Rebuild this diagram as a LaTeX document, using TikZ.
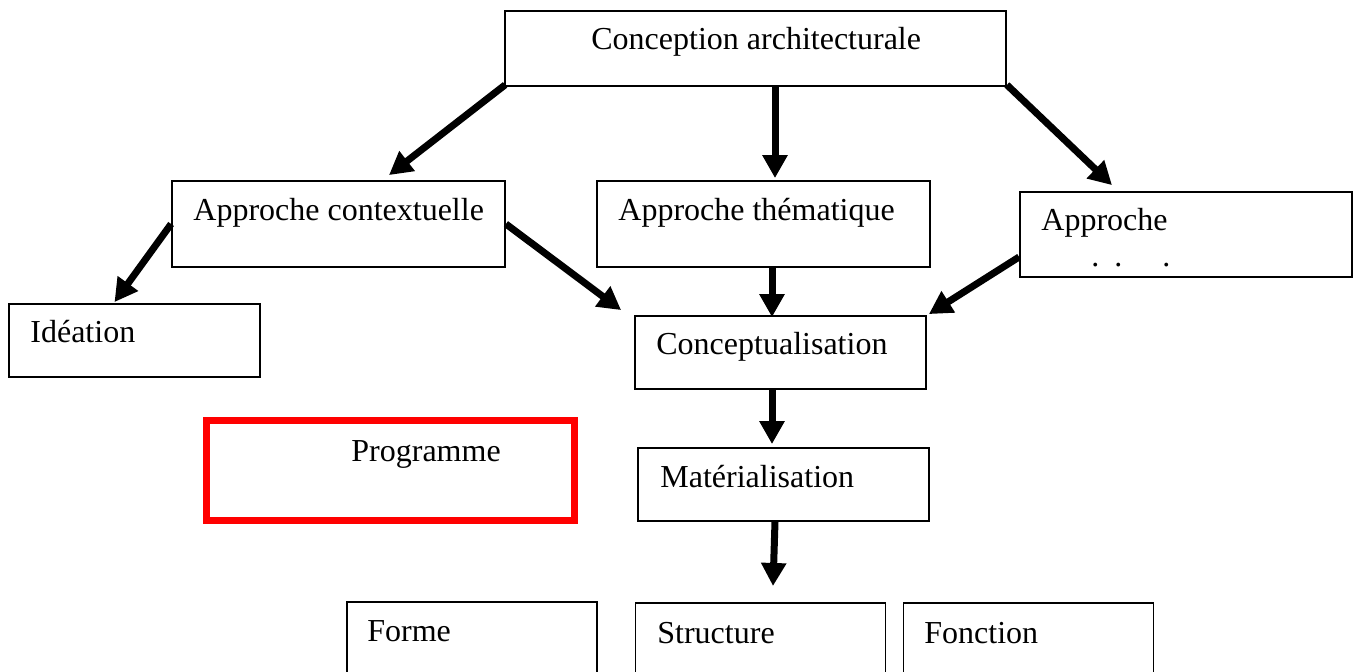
\documentclass[tikz,border=0pt]{standalone}
\usepackage{fontspec}
\setmainfont{Liberation Serif}
\usetikzlibrary{arrows.meta, positioning}
\definecolor{ink}{HTML}{000000}
\definecolor{progred}{HTML}{FF0000}
\tikzset{bx/.style={draw=ink, line width=0.9pt, inner sep=0pt},
  tx/.style={anchor=base west, inner sep=0pt, text=ink, font=\fontsize{16pt}{19pt}\selectfont},
  ar/.style={draw=ink, line width=3.5pt, -{Triangle[length=11.5pt, width=12pt]}}}
\begin{document}
\begin{tikzpicture}[x=0.5pt, y=-0.5pt]
  \useasboundingbox (0,0) rectangle (1357,672);
  \clip (0,0) rectangle (1357,672);
  % boxes
  \node[bx, minimum width=250.5pt, minimum height=37.5pt] (conc) at (755.5,48.5) {};
  \node[bx, minimum width=166.5pt, minimum height=43pt] (ctx) at (338.5,224) {};
  \node[bx, minimum width=166.5pt, minimum height=43pt] (them) at (763.5,224) {};
  \node[bx, minimum width=166pt, minimum height=42.5pt] (autre) at (1186,234.5) {};
  \node[bx, minimum width=125.5pt, minimum height=36.5pt] (idea) at (134.5,340.5) {};
  \node[bx, minimum width=145.5pt, minimum height=36.5pt] (concep) at (780.5,352.5) {};
  \node[draw=progred, line width=3.5pt, inner sep=0pt, minimum width=184pt, minimum height=50pt] (prog) at (390,471) {};
  \node[bx, minimum width=145.5pt, minimum height=36.5pt] (mater) at (783.5,484.5) {};
  \node[bx, minimum width=125pt, minimum height=45pt] (forme) at (472,647) {};
  \node[bx, minimum width=125pt, minimum height=45pt] (struct) at (760.5,648) {};
  \node[bx, minimum width=125pt, minimum height=45pt] (fonct) at (1028.5,648) {};
  % labels
  \node[tx] (conc-t) at (591,50) {Conception architecturale};
  \node[tx] (ctx-t) at (193,221) {Approche contextuelle};
  \node[tx] (them-t) at (618,221) {Approche thématique};
  \node[tx] (autre-t) at (1041,231) {Approche};
  \node[tx] (autre-d) at (1091,267) {.\hspace{7.5pt}.\hspace{20pt}.};
  \node[tx] (idea-t) at (30,343) {Idéation};
  \node[tx] (concep-t) at (656,355) {Conceptualisation};
  \node[tx] (prog-t) at (351,462) {Programme};
  \node[tx] (mater-t) at (660,488) {Matérialisation};
  \node[tx] (forme-t) at (367,642) {Forme};
  \node[tx] (struct-t) at (657,644) {Structure};
  \node[tx] (fonct-t) at (924,644) {Fonction};
  % arrows
  \coordinate (down) at (773,586);
  \draw[ar] ([shift={(1,-2)}]conc.south west) -- ([shift={(50.5,-5)}]ctx.north);
  \draw[ar] ([shift={(19.5,0)}]conc.south) -- ([shift={(11.5,-2)}]them.north);
  \draw[ar] ([shift={(0,-2)}]conc.south east) -- ([shift={(-74,-6)}]autre.north);
  \draw[ar] (ctx.west) -- ([shift={(-20,-1)}]idea.north);
  \draw[ar] (ctx.east) -- ([shift={(-13,-5)}]concep.north west);
  \draw[ar] ([shift={(8.5,0)}]them.south) -- ([shift={(-8.5,2)}]concep.north);
  \draw[ar] ([shift={(0,22.5)}]autre.west) -- ([shift={(2,-1)}]concep.north east);
  \draw[ar] ([shift={(-8.5,0)}]concep.south) -- ([shift={(-11.5,-3)}]mater.north);
  \draw[ar] ([shift={(-8.5,0)}]mater.south) -- (down);
\end{tikzpicture}
\end{document}
